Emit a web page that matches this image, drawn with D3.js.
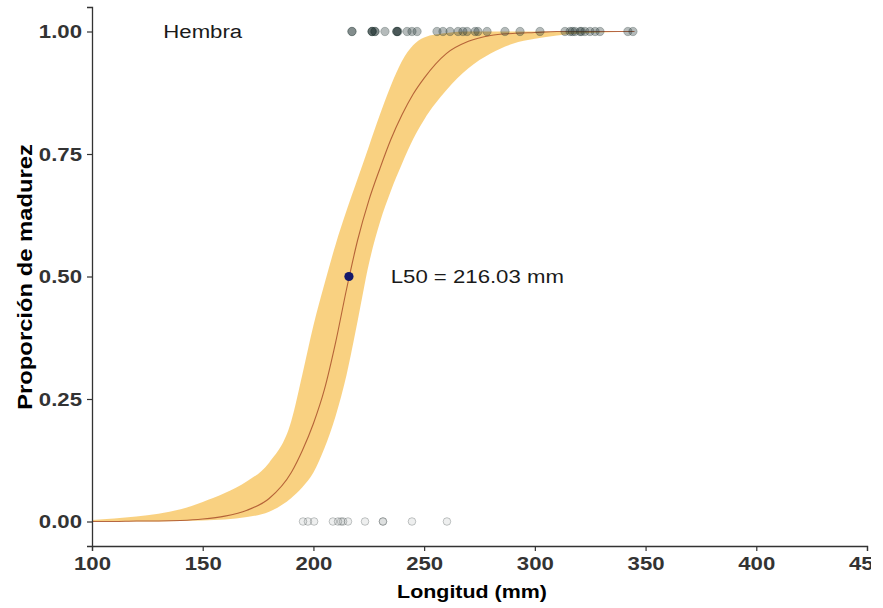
<!DOCTYPE html>
<html>
<head>
<meta charset="utf-8">
<script src="https://cdn.jsdelivr.net/npm/d3@7"></script>
<style>
  html, body { margin: 0; padding: 0; background: #fff; }
  svg { display: block; overflow: hidden; }
  text { font-family: "Liberation Sans", Arial, sans-serif; }
</style>
</head>
<body>
<div id="chart"></div>
<script>
// Fitted maturity ogive: length grid, fitted proportion and confidence band
const lengthGrid = [100, 110, 120, 130, 140, 150, 160, 170, 180, 190, 195, 200, 205, 210, 215, 220, 225, 230, 235, 240, 245, 250, 260, 270, 280, 290, 300, 310, 320, 330, 345];
const fitProp    = [0.000, 0.000, 0.001, 0.001, 0.002, 0.005, 0.011, 0.023, 0.047, 0.100, 0.145, 0.200, 0.270, 0.365, 0.475, 0.575, 0.655, 0.720, 0.780, 0.830, 0.872, 0.905, 0.955, 0.980, 0.992, 0.996, 0.998, 1.000, 1.000, 1.000, 1.000];
const upperProp  = [0.003, 0.006, 0.010, 0.016, 0.025, 0.040, 0.058, 0.082, 0.120, 0.205, 0.300, 0.400, 0.485, 0.565, 0.635, 0.700, 0.765, 0.830, 0.890, 0.940, 0.972, 0.988, 0.997, 1.000, 1.000, 1.000, 1.000, 1.000, 1.000, 1.000, 1.000];
const lowerProp  = [0.000, 0.000, 0.000, 0.000, 0.001, 0.002, 0.004, 0.009, 0.020, 0.048, 0.070, 0.100, 0.150, 0.215, 0.300, 0.410, 0.525, 0.610, 0.675, 0.730, 0.780, 0.820, 0.880, 0.925, 0.955, 0.975, 0.985, 0.992, 0.996, 0.998, 1.000];

// Observed females: mature (1) and immature (0) lengths in mm
const matureLengths = [217.4, 217.4, 226.5, 226.5, 226.5, 227.8, 227.8, 232.3, 237.7, 237.7, 237.7, 238.2, 242.3, 244.5, 246.8, 255.8, 258.5, 261.7, 265.3, 267.5, 269.4, 273.0, 274.3, 278.4, 286.5, 293.3, 302.3, 313.6, 315.9, 317.0, 318.1, 320.4, 321.0, 322.6, 324.9, 327.2, 329.4, 342.0, 344.3];
const immatureLengths = [195.3, 197.5, 200.3, 208.8, 211.1, 212.5, 213.4, 215.6, 223.3, 231.4, 231.4, 244.5, 260.3];

// Length at 50% maturity
const L50 = 216.03;
const panelLabel = "Hembra";

const xTicks = [100, 150, 200, 250, 300, 350, 400, 450];
const yTicks = [0, 0.25, 0.5, 0.75, 1];

const W = 871, H = 608;
const STRETCH = 1.18;   // horizontal stretch of the lettering
const FONT = 18.8;

const svg = d3.select("#chart").append("svg")
  .attr("width", W).attr("height", H);

const x = d3.scaleLinear().domain([100, 450]).range([92, 867]);
const y = d3.scaleLinear().domain([-0.05, 1.05]).range([546, 7]);

const curveRows = lengthGrid.map((v, i) => ({ v, fit: fitProp[i], lo: lowerProp[i], hi: upperProp[i] }));

// confidence band
svg.append("path")
  .datum(curveRows)
  .attr("fill", "#f7c25a")
  .attr("fill-opacity", 0.76)
  .attr("d", d3.area().curve(d3.curveMonotoneX)
    .x(d => x(d.v)).y0(d => y(d.lo)).y1(d => y(d.hi)));

// fitted curve
svg.append("path")
  .datum(curveRows)
  .attr("fill", "none")
  .attr("stroke", "#a9502c")
  .attr("stroke-width", 1.1)
  .attr("stroke-opacity", 0.85)
  .attr("d", d3.line().curve(d3.curveMonotoneX)
    .x(d => x(d.v)).y(d => y(d.fit)));

// observations
svg.append("g").selectAll("circle")
  .data(matureLengths).join("circle")
  .attr("cx", d => x(d)).attr("cy", y(1)).attr("r", 4.2)
  .attr("fill", "#1f3230").attr("fill-opacity", 0.33)
  .attr("stroke", "#1f3230").attr("stroke-opacity", 0.25);

svg.append("g").selectAll("circle")
  .data(immatureLengths).join("circle")
  .attr("cx", d => x(d)).attr("cy", y(0)).attr("r", 3.8)
  .attr("fill", "#556060").attr("fill-opacity", 0.1)
  .attr("stroke", "#6a7272").attr("stroke-opacity", 0.45)
  .attr("stroke-width", 0.9);

// L50 marker
svg.append("circle")
  .attr("cx", x(L50)).attr("cy", y(0.5)).attr("r", 4.6)
  .attr("fill", "#14186a");

function label(px, py, str, opts = {}) {
  return svg.append("text")
    .attr("transform", `translate(${px},${py}) ${opts.rotate ? `rotate(${opts.rotate})` : ""} scale(${opts.sx || STRETCH},1)`)
    .attr("dy", opts.dy || "0.36em")
    .attr("text-anchor", "middle")
    .attr("font-size", opts.size || FONT)
    .attr("font-weight", opts.weight || "normal")
    .attr("fill", opts.fill || "#1a1a1a")
    .text(str);
}

label(x(274), y(0.5), `L50 = ${L50.toFixed(2)} mm`);
label(x(150), y(1), panelLabel);

// axes
const axisColor = "#333";
const xAxis = svg.append("g")
  .attr("transform", `translate(0,546)`)
  .call(d3.axisBottom(x).tickValues(xTicks).tickSize(5).tickPadding(6).tickFormat(d3.format("d")));
const yAxis = svg.append("g")
  .attr("transform", `translate(92,0)`)
  .call(d3.axisLeft(y).tickValues(yTicks).tickSize(5).tickPadding(5).tickFormat(d3.format(".2f")));

[xAxis, yAxis].forEach(g => {
  g.select(".domain").attr("stroke", axisColor).attr("stroke-width", 1.3);
  g.selectAll(".tick line").attr("stroke", axisColor).attr("stroke-width", 1.2);
  g.selectAll(".tick text")
    .attr("fill", "#333")
    .attr("font-size", FONT)
    .attr("font-weight", "bold")
    .style("font-family", "'Liberation Sans', Arial, sans-serif");
});
xAxis.selectAll(".tick text").attr("transform", `scale(${STRETCH},1)`);
yAxis.selectAll(".tick text")
  .attr("x", 0)
  .attr("transform", `translate(-10,0) scale(${STRETCH},1)`);

// axis titles
label(472, 591, "Longitud (mm)", { weight: "bold", fill: "#000", size: 18.8, sx: 1.14 });
label(25, 277, "Proporción de madurez", { weight: "bold", fill: "#000", size: 19.5, sx: 1.22, rotate: -90 });
</script>
</body>
</html>
